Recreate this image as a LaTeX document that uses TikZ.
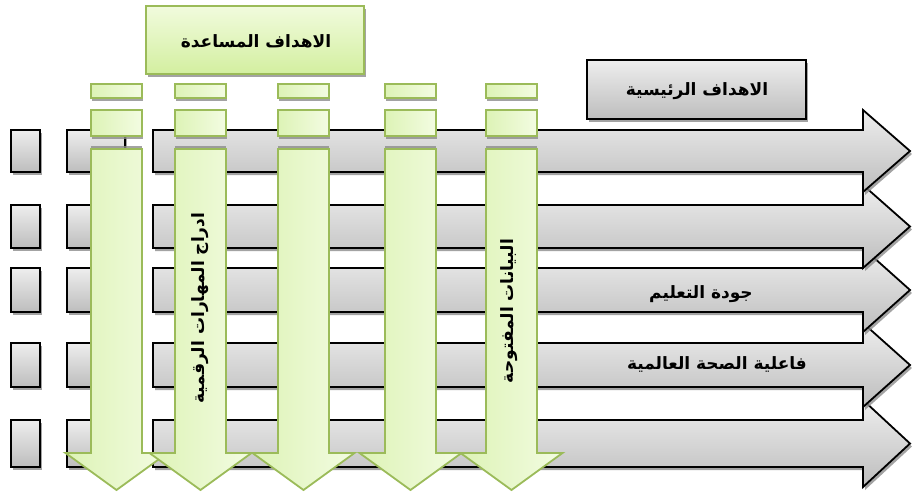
\documentclass[tikz,border=0pt]{standalone}
\usepackage{fontspec}
\newfontfamily\arabicfont[Script=Arabic]{DejaVu Sans}
\TeXXeTstate=1
\definecolor{grnline}{HTML}{9BBB59}
\definecolor{grnA}{HTML}{DDF3B6}
\definecolor{grnB}{HTML}{F3FCE2}
\definecolor{grnTop}{HTML}{F1FBDD}
\definecolor{grnBot}{HTML}{D3EFA0}
\definecolor{gryTop}{HTML}{EEEEEE}
\definecolor{gryBot}{HTML}{BDBDBD}
\definecolor{shd}{HTML}{8C8C8C}
\tikzset{
  graybody/.style={draw=black, line width=1.8pt, line join=miter, top color=gryTop, bottom color=gryBot},
  greenbody/.style={draw=grnline, line width=1.8pt, line join=miter, left color=grnA, right color=grnB},
  greenbox/.style={draw=grnline, line width=1.8pt, top color=grnTop, bottom color=grnBot},
  shadowfill/.style={fill=shd, draw=none, opacity=0.8},
  lbl/.style={font=\arabicfont\bfseries\fontsize{17}{20}\selectfont, inner sep=0pt, text=black},
}
\begin{document}
\begin{tikzpicture}[x=1pt,y=-1pt]
\useasboundingbox (0,0) rectangle (912,491);
\fill[white] (0,0) rectangle (912,491);

% horizontal gray arrows, bottom row first
\foreach \ta/\tb in {420/467, 343/387, 268/312, 205/248, 130/172}{
  \pgfmathsetmacro\mm{(\ta+\tb)/2}
  \pgfmathsetmacro\hu{\ta-20}
  \pgfmathsetmacro\hd{\tb+20}
  % left small square
  \fill[shadowfill] (13,\ta+3) rectangle (42,\tb+3);
  \path[graybody] (11,\ta) rectangle (40,\tb);
  % left short rectangle
  \fill[shadowfill] (69,\ta+3) rectangle (127,\tb+3);
  \path[graybody] (67,\ta) rectangle (125,\tb);
  % long arrow
  \fill[shadowfill, shift={(2,3)}] (153,\ta) -- (863,\ta) -- (863,\hu) -- (910,\mm) -- (863,\hd) -- (863,\tb) -- (153,\tb) -- cycle;
  \path[graybody] (153,\ta) -- (863,\ta) -- (863,\hu) -- (910,\mm) -- (863,\hd) -- (863,\tb) -- (153,\tb) -- cycle;
}

% green columns
\foreach \L in {91,175,278,385,486}{
  \pgfmathsetmacro\R{\L+51}
  \pgfmathsetmacro\C{\L+25.5}
  \pgfmathsetmacro\HL{\C-51}
  \pgfmathsetmacro\HR{\C+51}
  \fill[shadowfill] (\L+1,86) rectangle (\R+1,101);
  \path[greenbody] (\L,84) rectangle (\R,98);
  \fill[shadowfill] (\L+1,112) rectangle (\R+1,139);
  \path[greenbody] (\L,110) rectangle (\R,136);
  \fill[shadowfill] (\L,146) rectangle (\R,150);
  \path[greenbody] (\L,149) -- (\R,149) -- (\R,453) -- (\HR,453) -- (\C,490) -- (\HL,453) -- (\L,453) -- cycle;
}

% title boxes
\fill[shadowfill] (148,9) rectangle (366,77);
\path[greenbox] (146,6) rectangle (364,74);
\node[lbl] (sub) at (256,41) {\beginR الاهداف المساعدة\endR};

\fill[shadowfill] (589,63) rectangle (808,122);
\path[graybody] (587,60) rectangle (806,119);
\node[lbl] (main) at (697,91) {\beginR الاهداف الرئيسية\endR};

% arrow labels
\node[lbl] (q) at (701,294) {\beginR جودة التعليم\endR};
\node[lbl] (h) at (717,364) {\beginR فاعلية الصحة العالمية\endR};

% vertical labels
\node[lbl, rotate=90] (d) at (200,308) {\beginR ادراج المهارات الرقمية\endR};
\node[lbl, rotate=90] (o) at (509,311) {\beginR البيانات المفتوحة\endR};
\end{tikzpicture}
\end{document}
